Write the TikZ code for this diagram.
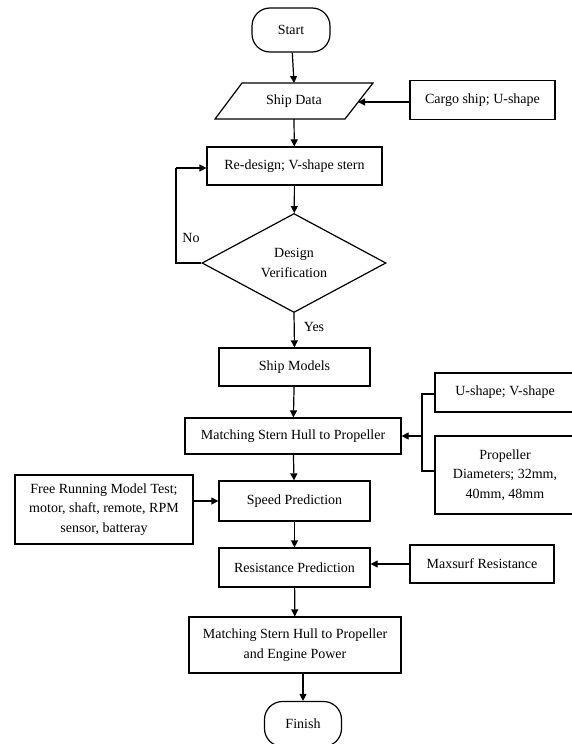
\documentclass[tikz,border=0pt]{standalone}
\usepackage{fontspec}
\setmainfont{Liberation Serif}
\usetikzlibrary{arrows.meta,shapes.geometric}
\begin{document}
\begin{tikzpicture}[x=1pt,y=-1pt,
  txt/.style={font=\fontsize{14}{19.5}\selectfont, align=center},
  box/.style={txt, draw, line width=1.2pt, inner sep=0pt},
  term/.style={box, rounded corners=18pt},
  arr/.style={line width=1.2pt, -{Triangle[length=7pt,width=7pt]}},
  ln/.style={line width=1.2pt}]
\useasboundingbox (0,0) rectangle (572,744);
% Start
\node[term, minimum width=78pt, minimum height=44pt] (start) at (291,30) {Start};
% Ship data parallelogram
\coordinate (sdbl) at (215,119);
\coordinate (sdtl) at (242,83);
\coordinate (sdtr) at (373,83);
\coordinate (sdbr) at (345,119);
\draw[ln] (sdbl) -- (sdtl) -- (sdtr) -- (sdbr) -- cycle;
\node[txt] (shipdata) at (294,101) {Ship Data};
\coordinate (sdtop) at (294,83);
\coordinate (sdbot) at (294,119);
\coordinate (sdright) at (358,102);
% Cargo
\node[box, minimum width=145pt, minimum height=39pt] (cargo) at (482.5,100) {Cargo ship; U-shape};
% Redesign
\node[box, minimum width=175pt, minimum height=38pt] (redesign) at (294.5,166) {Re-design; V-shape stern};
% Diamond
\node[box, diamond, aspect=1.84, minimum width=184pt, minimum height=99pt] (verify) at (294,263) {Design\\Verification};
\coordinate (loopc) at (176,263);
\coordinate (loopt) at (176,168);
% Ship models
\node[box, minimum width=151pt, minimum height=38pt] (models) at (294.5,367) {Ship Models};
% Matching
\node[box, minimum width=216pt, minimum height=36pt] (match) at (293,436) {Matching Stern Hull to Propeller};
% Right boxes
\node[box, minimum width=140pt, minimum height=39pt] (ushape) at (505,392.5) {U-shape; V-shape};
\node[box, minimum width=140pt, minimum height=78pt] (prop) at (505,475) {Propeller\\Diameters; 32mm,\\40mm, 48mm};
\coordinate (brt) at (422,394);
\coordinate (brb) at (422,471);
\coordinate (brm) at (422,436);
% Speed
\node[box, minimum width=151pt, minimum height=40pt] (speed) at (294.5,501) {Speed Prediction};
\node[box, minimum width=178pt, minimum height=69pt] (free) at (104,509.5) {Free Running Model Test;\\motor, shaft, remote, RPM\\sensor, batteray};
% Resistance
\node[box, minimum width=151pt, minimum height=39pt] (resist) at (294.5,567.5) {Resistance Prediction};
\node[box, minimum width=144pt, minimum height=38pt] (maxsurf) at (482,564) {Maxsurf Resistance};
% Final
\node[box, minimum width=212pt, minimum height=56pt] (final) at (295,645) {Matching Stern Hull to Propeller\\and Engine Power};
\node[term, minimum width=77pt, minimum height=45pt] (finish) at (303,724) {Finish};
% Connectors
\draw[arr] (start) -- (sdtop);
\draw[arr] (cargo.west |- sdright) -- (sdright);
\draw[arr] (sdbot) -- (redesign);
\draw[arr] (redesign) -- (verify);
\draw[ln] (verify.west) -- (loopc) -- (loopt);
\draw[arr] (loopt) -- (loopt -| redesign.west);
\node[txt] (no) at (191,238) {No};
\draw[arr] (verify.south) -- (models.north);
\node[txt] (yes) at (314,327) {Yes};
\draw[arr] (models) -- (match);
\draw[ln] (ushape.west |- brt) -- (brt) -- (brb) -- (prop.west |- brb);
\draw[arr] (brm) -- (match.east |- brm);
\draw[arr] (match) -- (speed);
\draw[arr] (free.east |- speed.west) -- (speed.west);
\draw[arr] (speed) -- (resist);
\draw[arr] (maxsurf.west) -- (maxsurf.west -| resist.east);
\draw[arr] (resist) -- (final);
\draw[arr] (finish.north |- final.south) -- (finish.north);
\end{tikzpicture}
\end{document}
